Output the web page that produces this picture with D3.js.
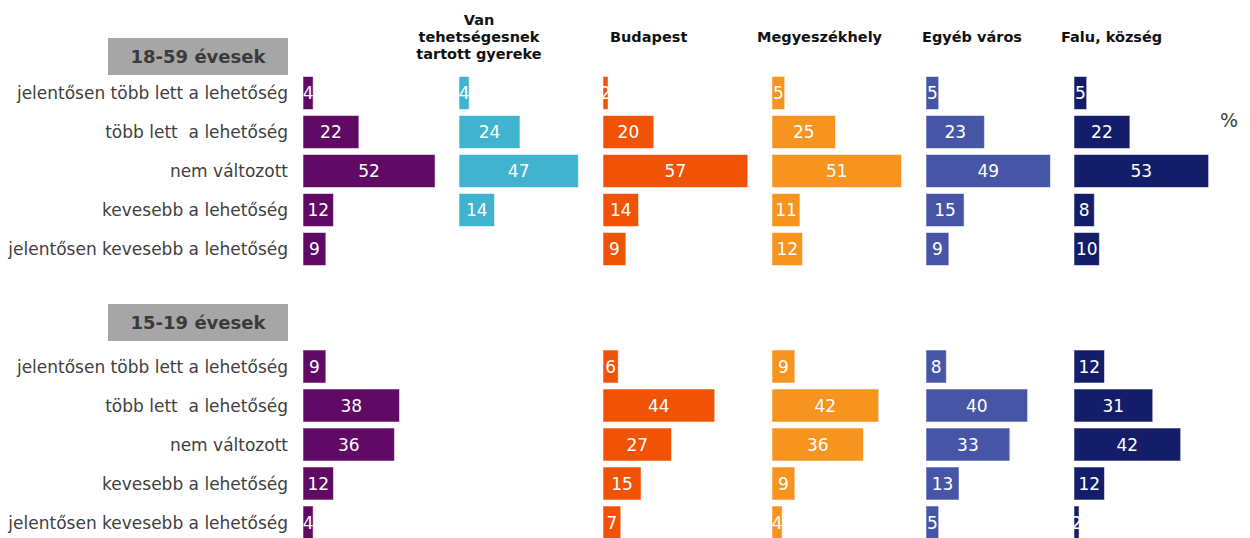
<!DOCTYPE html>
<html>
<head>
<meta charset="utf-8">
<script src="https://cdn.jsdelivr.net/npm/d3@7"></script>
<style>
  body { margin: 0; background: #fff; }
  svg { display: block; font-family: "DejaVu Sans", Verdana, sans-serif; }
</style>
</head>
<body>
<div id="root"></div>
<script>
// categories (rows), same for both age groups
const categories = [
  "jelentősen több lett a lehetőség",
  "több lett  a lehetőség",
  "nem változott",
  "kevesebb a lehetőség",
  "jelentősen kevesebb a lehetőség",
];
const groups = ["18-59 évesek", "15-19 évesek"];
const columns = [
  "",
  "Van tehetségesnek tartott gyereke",
  "Budapest",
  "Megyeszékhely",
  "Egyéb város",
  "Falu, község",
];

// 18-59 évesek
const total1859 = [4, 22, 52, 12, 9];
const talented1859 = [4, 24, 47, 14, null];
const budapest1859 = [2, 20, 57, 14, 9];
const county1859 = [5, 25, 51, 11, 12];
const town1859 = [5, 23, 49, 15, 9];
const village1859 = [5, 22, 53, 8, 10];

// 15-19 évesek
const total1519 = [9, 38, 36, 12, 4];
const talented1519 = [null, null, null, null, null];
const budapest1519 = [6, 44, 27, 15, 7];
const county1519 = [9, 42, 36, 9, 4];
const town1519 = [8, 40, 33, 13, 5];
const village1519 = [12, 31, 42, 12, 2];

const series = [
  [total1859, talented1859, budapest1859, county1859, town1859, village1859],
  [total1519, talented1519, budapest1519, county1519, town1519, village1519],
];

const colors = ["#600a66", "#40b3cf", "#f05206", "#f7931f", "#4755a6", "#141d69"];

const width = 1250, height = 538;
const colX = [303, 459, 603, 772, 926, 1074];
const headerX = [null, 479, 610, 757, 922, 1061];
const groupTop = [73.5, 347];
const boxY = [38, 304];
const labelRight = 288;

const x = d3.scaleLinear().domain([0, 100]).range([0, 254]);

const svg = d3.select("#root").append("svg")
  .attr("width", width)
  .attr("height", height)
  .attr("viewBox", `0 0 ${width} ${height}`);

// column headers
columns.forEach((name, i) => {
  if (!name) return;
  const t = svg.append("text")
    .attr("font-size", 14.5)
    .attr("font-weight", "bold")
    .attr("fill", "#111");
  if (i === 1) {
    const lines = ["Van", "tehetségesnek", "tartott gyereke"];
    t.attr("text-anchor", "middle");
    lines.forEach((l, k) => {
      t.append("tspan").attr("x", headerX[i]).attr("y", 25 + k * 17).text(l);
    });
  } else {
    t.attr("x", headerX[i]).attr("y", 42).text(name);
  }
});

svg.append("text")
  .attr("x", 1220).attr("y", 127)
  .attr("font-size", 19)
  .attr("fill", "#404040")
  .text("%");

groups.forEach((g, gi) => {
  const y = d3.scaleBand()
    .domain(categories)
    .range([groupTop[gi], groupTop[gi] + 195])
    .paddingInner(0.154)
    .paddingOuter(0.077);

  // group title box
  svg.append("rect")
    .attr("x", 108).attr("y", boxY[gi])
    .attr("width", 180).attr("height", 37)
    .attr("fill", "#a6a6a6");
  svg.append("text")
    .attr("x", 198).attr("y", boxY[gi] + 18.5)
    .attr("text-anchor", "middle")
    .attr("dominant-baseline", "central")
    .attr("font-size", 18)
    .attr("font-weight", "bold")
    .attr("fill", "#3a3a3a")
    .text(g);

  // row labels
  svg.append("g").selectAll("text")
    .data(categories)
    .join("text")
    .attr("x", labelRight)
    .attr("y", (d) => y(d) + y.bandwidth() / 2)
    .attr("text-anchor", "end")
    .attr("dominant-baseline", "central")
    .attr("font-size", 17)
    .attr("fill", "#404040")
    .style("white-space", "pre")
    .text((d) => d);

  series[gi].forEach((vals, ci) => {
    const data = vals
      .map((v, k) => ({ v, cat: categories[k] }))
      .filter((d) => d.v != null);
    const col = svg.append("g").attr("transform", `translate(${colX[ci]},0)`);

    col.selectAll("rect")
      .data(data)
      .join("rect")
      .attr("x", 0)
      .attr("y", (d) => y(d.cat))
      .attr("width", (d) => x(d.v))
      .attr("height", y.bandwidth())
      .attr("fill", colors[ci])
      .attr("stroke", "rgba(255,255,255,0.55)")
      .attr("stroke-width", 1);

    col.selectAll("text")
      .data(data)
      .join("text")
      .attr("x", (d) => x(d.v) / 2)
      .attr("y", (d) => y(d.cat) + y.bandwidth() / 2)
      .attr("text-anchor", "middle")
      .attr("dominant-baseline", "central")
      .attr("font-size", 17)
      .attr("fill", "#fff")
      .text((d) => d.v);
  });
});
</script>
</body>
</html>
